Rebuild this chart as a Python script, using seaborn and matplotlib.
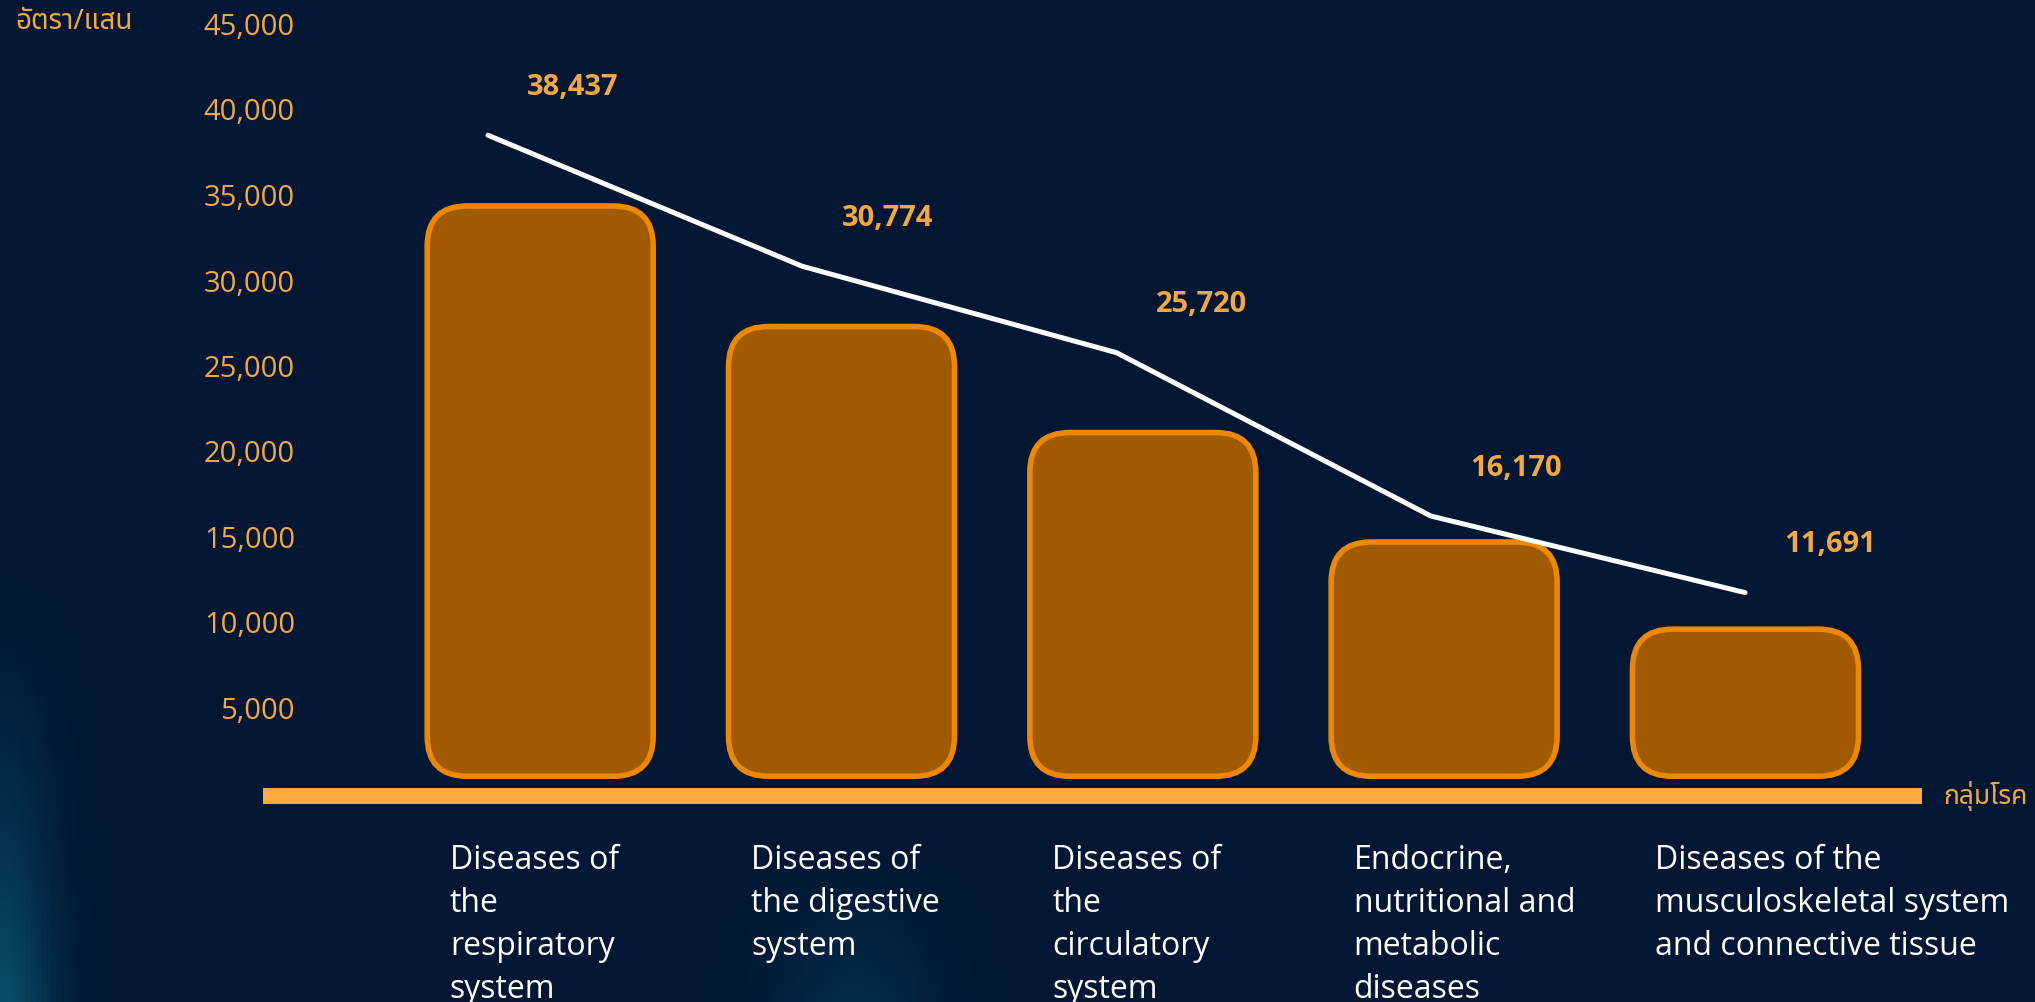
import numpy as np
import pandas as pd
import matplotlib
matplotlib.use("Agg")
import matplotlib.pyplot as plt
import seaborn as sns
from matplotlib import font_manager, ft2font
from matplotlib.patches import FancyBboxPatch
from matplotlib.transforms import blended_transform_factory

# ---------------- data ----------------
categories = [
    "Diseases of\nthe\nrespiratory\nsystem",
    "Diseases of\nthe digestive\nsystem",
    "Diseases of\nthe\ncirculatory\nsystem",
    "Endocrine,\nnutritional and\nmetabolic\ndiseases",
    "Diseases of the\nmusculoskeletal system\nand connective tissue",
]
rate_values = [38437, 30774, 25720, 16170, 11691]      # line + labels
bar_tops = [34300, 27250, 21050, 14650, 9550]          # decorative bars
y_ticks = [5000, 10000, 15000, 20000, 25000, 30000, 35000, 40000, 45000]
y_label = "อัตรา/แสน"
x_label = "กลุ่มโรค"

# ---------------- fonts ----------------
def fonts_with(ch):
    names = []
    for f in font_manager.fontManager.ttflist:
        try:
            ft = ft2font.FT2Font(f.fname)
            if ord(ch) in ft.get_charmap():
                if f.name not in names:
                    names.append(f.name)
        except Exception:
            pass
    return names

thai_fonts = fonts_with("ก")
preferred = ["Noto Sans Thai", "IBM Plex Sans Thai", "Sarabun", "Loma"]
thai_pick = [n for n in preferred if n in thai_fonts][:1] or thai_fonts[:1]
thai_family = thai_pick + ["Open Sans", "DejaVu Sans"]

sns.set_theme(style="white")
plt.rcParams["font.family"] = ["Open Sans", "DejaVu Sans"]

BG = "#011733"
ORANGE_TXT = "#F5A841"
AXIS_ORANGE = "#FFAA40"
BAR_FILL = "#A05A00"
BAR_EDGE = "#EE8800"

W, H = 2035, 1003
fig = plt.figure(figsize=(W / 100, H / 100), dpi=100)
fig.patch.set_facecolor(BG)

# subtle background glow (decoration only)
bg_ax = fig.add_axes([0, 0, 1, 1], zorder=-10)
gx = np.linspace(0, 1, 400)[None, :]
gy = np.linspace(0, 1, 200)[:, None]
glow = 0.8 * np.exp(-((gx - 0.0) / 0.025) ** 2) * np.clip((gy - 0.55) / 0.45, 0, 1) ** 1.5
glow += 0.3 * np.exp(-((gx - 0.42) / 0.04) ** 2) * np.clip((gy - 0.85) / 0.15, 0, 1)
base = np.array([1, 23, 51]) / 255.0
tint = np.array([10, 90, 120]) / 255.0
img = base[None, None, :] + glow[:, :, None] * (tint - base)[None, None, :]
bg_ax.imshow(np.clip(img, 0, 1), aspect="auto", extent=[0, 1, 1, 0])
bg_ax.set_xlim(0, 1)
bg_ax.set_ylim(1, 0)
bg_ax.axis("off")

ax_left, ax_right = 263, 1922
y0_px, ytop_px = 793.5, 24
ax = fig.add_axes([ax_left / W, 1 - y0_px / H, (ax_right - ax_left) / W, (y0_px - ytop_px) / H])
ax.set_facecolor("none")

df = pd.DataFrame({"category": categories, "bar_top": bar_tops})
sns.barplot(data=df, x="category", y="bar_top", ax=ax, width=0.75,
            color=BAR_FILL, saturation=1, order=categories)

bx_lo, bx_hi = -0.92, 4.586
ax.set_ylim(0, 45000)
ax.set_xlim(bx_lo, bx_hi)
for s in ax.spines.values():
    s.set_visible(False)
ax.set_xlabel("")
ax.set_ylabel("")
ax.set_xticks([])
ax.set_yticks(y_ticks)
ax.set_yticklabels([f"{t:,}" for t in y_ticks])
ax.tick_params(axis="y", length=0, pad=-23, labelsize=21, labelcolor=ORANGE_TXT)
for lab in ax.get_yticklabels():
    lab.set_horizontalalignment("right")
ax.grid(False)

# rounded bars replacing seaborn rectangles
px_x = (ax_right - ax_left) / (bx_hi - bx_lo)
px_y = (y0_px - ytop_px) / 45000
r_px = 40
rx = r_px / px_x
ry = r_px / px_y
bar_base = 950
for p in list(ax.patches):
    x0, w, h = p.get_x(), p.get_width(), p.get_height()
    p.set_visible(False)
    fb = FancyBboxPatch((x0, bar_base), w, h - bar_base,
                        boxstyle=f"round,pad=0,rounding_size={rx}",
                        mutation_aspect=ry / rx,
                        facecolor=BAR_FILL, edgecolor=BAR_EDGE, linewidth=4, zorder=2)
    ax.add_patch(fb)

# orange axis bar
ax.axhline(-200, color=AXIS_ORANGE, linewidth=11.5, solid_capstyle="butt", clip_on=False, zorder=1)

# category labels
trans = blended_transform_factory(ax.transData, ax.transAxes)
for i, c in enumerate(categories):
    ax.text(i - 0.30, -0.066, c, transform=trans, ha="left", va="top",
            color="white", fontsize=23, linespacing=1.40)

# line axis
ax2 = ax.twiny()
ax2.set_facecolor("none")
sns.lineplot(x=np.arange(len(rate_values)), y=rate_values, ax=ax2, color="white",
             linewidth=3.6, sort=False)
for ln in ax2.lines:
    ln.set_solid_capstyle("round")
    ln.set_solid_joinstyle("round")
ax2.set_xlim(-0.716, 4.563)
ax2.set_ylim(0, 45000)
ax2.set_xticks([])
ax2.set_xlabel("")
for s in ax2.spines.values():
    s.set_visible(False)
ax2.grid(False)
for i, v in enumerate(rate_values):
    ax2.text(i + 0.27, v + 2850, f"{v:,}", ha="center", va="center",
             color=ORANGE_TXT, fontsize=21, fontweight="bold")

# axis titles
fig.text(15 / W, 1 - 22 / H, y_label, ha="left", va="center", color=ORANGE_TXT,
         fontsize=20, family=thai_family)
fig.text(1943 / W, 1 - 796 / H, x_label, ha="left", va="center", color=ORANGE_TXT,
         fontsize=19, family=thai_family)

fig.savefig("out.png", dpi=100, facecolor=BG)
